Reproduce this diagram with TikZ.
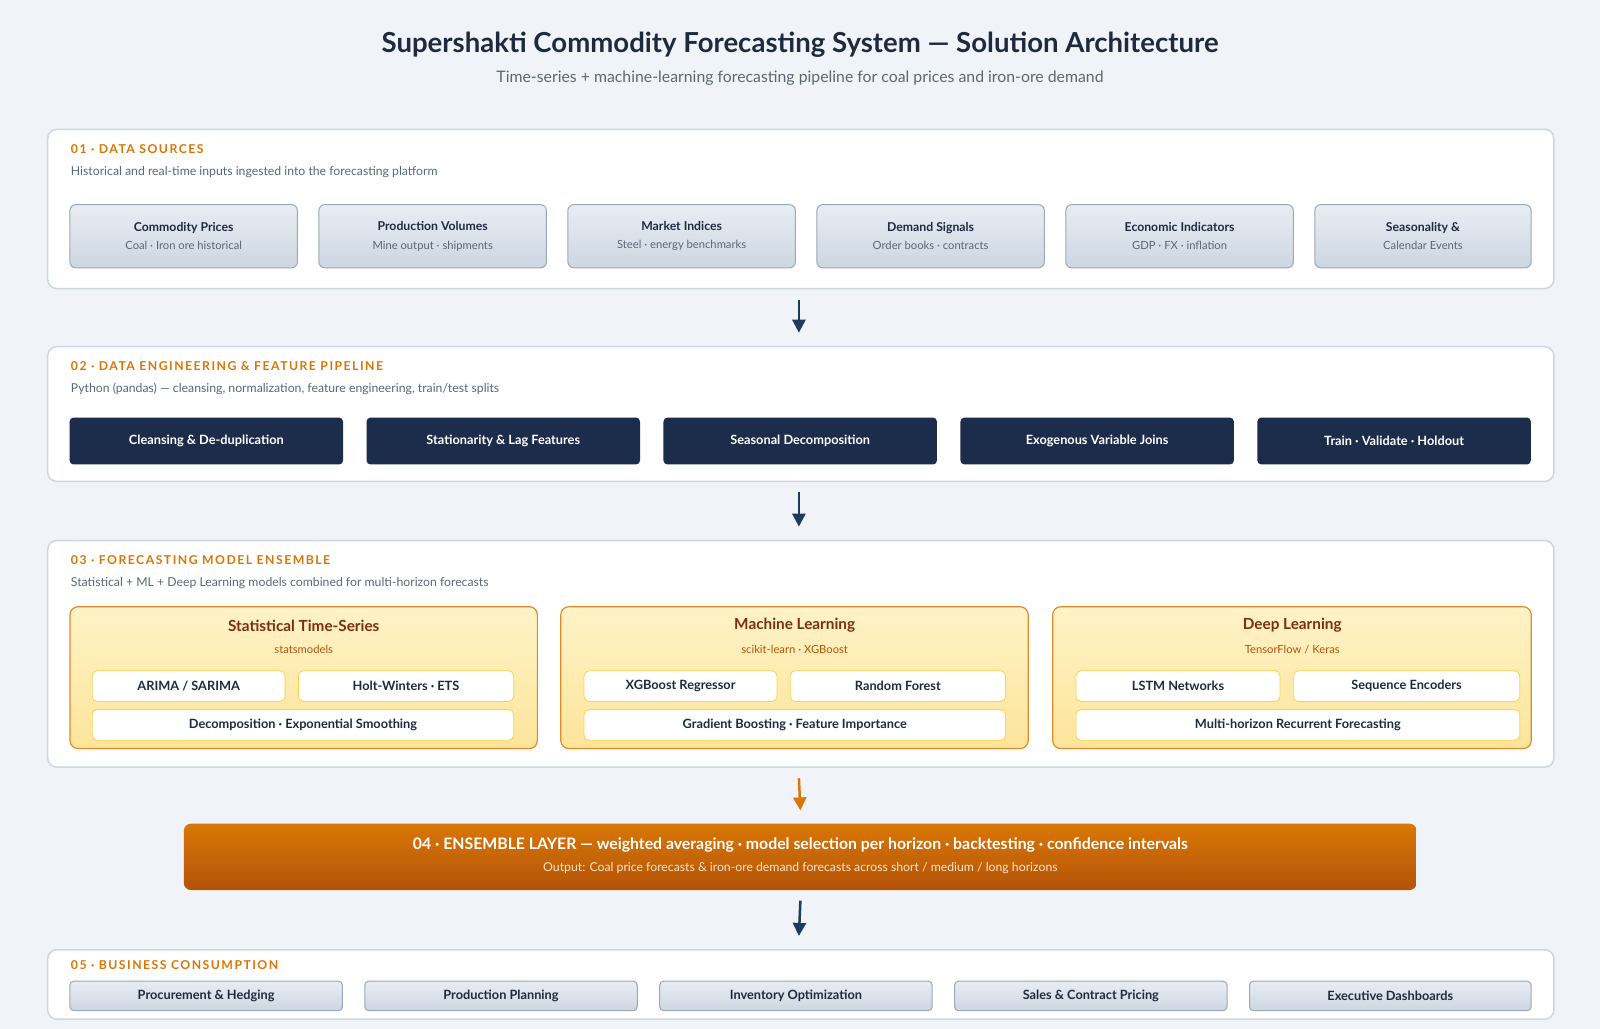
\documentclass[tikz,border=0pt]{standalone}
\usepackage{fontspec}
\setmainfont{Lato}
\usetikzlibrary{arrows.meta,positioning,calc}
\definecolor{navy}{HTML}{1B2D4A}
\definecolor{ink}{HTML}{1E2B3F}
\definecolor{accent}{HTML}{D97706}
\definecolor{greytxt}{HTML}{5B6778}
\definecolor{rim}{HTML}{CDD6E2}
\definecolor{maroon}{HTML}{7C2D12}
\definecolor{pagebg}{HTML}{F0F3F8}
\definecolor{srcrim}{HTML}{9AA8BA}
\definecolor{srctop}{HTML}{E8EDF3}
\definecolor{srcbot}{HTML}{CDD6E1}
\definecolor{grprim}{HTML}{E08A2C}
\definecolor{grptop}{HTML}{FEF3C7}
\definecolor{grpbot}{HTML}{FDE49A}
\definecolor{modrim}{HTML}{FCD34D}
\definecolor{arrowblue}{HTML}{1E3A5F}
\definecolor{enstop}{HTML}{D97706}
\definecolor{ensbot}{HTML}{B45309}
\definecolor{enssub}{HTML}{FDE6C8}

\tikzset{
  section/.style={draw=rim, line width=1.5pt, fill=white, rounded corners=9pt, inner sep=0pt, anchor=north west},
  seclabel/.style={anchor=west, text=accent, font=\fontsize{12}{14}\selectfont\bfseries\addfontfeatures{LetterSpace=12}},
  secdesc/.style={anchor=west, text=greytxt, font=\fontsize{12}{14}\selectfont},
  source/.style={draw=srcrim, line width=1pt, rounded corners=6pt, top color=srctop, bottom color=srcbot, text=ink, align=center, inner sep=0pt, minimum height=62pt, font=\fontsize{12}{16}\selectfont},
  stage/.style={fill=navy, rounded corners=4pt, text=white, inner sep=0pt, minimum height=46pt, font=\fontsize{12.5}{14}\selectfont\bfseries},
  group/.style={draw=grprim, line width=1.2pt, rounded corners=8pt, top color=grptop, bottom color=grpbot, inner sep=0pt, minimum height=139pt},
  model/.style={draw=modrim, line width=0.8pt, fill=white, rounded corners=5pt, text=ink, inner sep=0pt, minimum height=30pt, font=\fontsize{12.5}{14}\selectfont\bfseries},
  consumer/.style={draw=srcrim, line width=1pt, rounded corners=4pt, top color=srctop, bottom color=srcbot, text=ink, inner sep=0pt, minimum height=29pt, font=\fontsize{12.5}{14}\selectfont\bfseries},
  flow/.style={-{Triangle[length=13pt,width=13pt]}, line width=2.5pt, draw=arrowblue},
}

\begin{document}
\begin{tikzpicture}[x=1pt, y=-1pt, scale=1.0204, transform shape]
  \fill[pagebg] (0,0) rectangle (1568,1008.4);
  \useasboundingbox (0,0) rectangle (1568,1008.4);

  % title
  \node[text=ink, font=\fontsize{27}{30}\selectfont\bfseries] (title) at (784,44) {Supershakti Commodity Forecasting System — Solution Architecture};
  \node[text=greytxt, font=\fontsize{15.5}{18}\selectfont] (subtitle) at (784,77) {Time-series + machine-learning forecasting pipeline for coal prices and iron-ore demand};

  % 01 data sources
  \node[section, minimum width=1476pt, minimum height=156pt] (sec1) at (46,126) {};
  \node[seclabel] at (66,146) {01 · DATA SOURCES};
  \node[secdesc] at (66,169) {Historical and real-time inputs ingested into the forecasting platform};
  \foreach \x/\w/\name/\t/\s in {
      68/223/src1/Commodity Prices/Coal · Iron ore historical,
      312/223/src2/Production Volumes/Mine output · shipments,
      556/223/src3/Market Indices/Steel · energy benchmarks,
      800/223/src4/Demand Signals/Order books · contracts,
      1044/223/src5/Economic Indicators/GDP · FX · inflation,
      1288/212/src6/Seasonality \&/Calendar Events}
    \node[source, minimum width=\w pt, anchor=north west] (\name) at (\x,200)
      {\textbf{\t}\\[2pt]{\fontsize{11}{13}\selectfont\color{greytxt}\s}};

  % 02 feature pipeline
  \node[section, minimum width=1476pt, minimum height=132pt] (sec2) at (46,339) {};
  \node[seclabel] at (66,359) {02 · DATA ENGINEERING \& FEATURE PIPELINE};
  \node[secdesc] at (66,381) {Python (pandas) — cleansing, normalization, feature engineering, train/test splits};
  \foreach \x/\name/\t in {68/stg1/Cleansing \& De-duplication, 359/stg2/Stationarity \& Lag Features,
      650/stg3/Seasonal Decomposition, 941/stg4/Exogenous Variable Joins, 1232/stg5/Train · Validate · Holdout}
    \node[stage, minimum width=268pt, anchor=north west] (\name) at (\x,409) {\t};

  % 03 model ensemble
  \node[section, minimum width=1476pt, minimum height=222pt] (sec3) at (46,529) {};
  \node[seclabel] at (66,549) {03 · FORECASTING MODEL ENSEMBLE};
  \node[secdesc] at (66,571) {Statistical + ML + Deep Learning models combined for multi-horizon forecasts};
  \foreach \x/\w/\name/\t/\s in {68/458/grpA/Statistical Time-Series/statsmodels,
      549/458/grpB/Machine Learning/scikit-learn · XGBoost,
      1031/469/grpC/Deep Learning/{TensorFlow / Keras}}
  {
    \node[group, minimum width=\w pt, anchor=north west] (\name) at (\x,594) {};
    \node[text=maroon, font=\fontsize{15}{17}\selectfont\bfseries] at ($(\name.north)+(0,19)$) {\t};
    \node[text=ensbot, font=\fontsize{11}{13}\selectfont] at ($(\name.north)+(0,42)$) {\s};
  }
  \foreach \x/\w/\y/\name/\t in {
      90/189/657/mA1/{ARIMA / SARIMA}, 292/211/657/mA2/Holt-Winters · ETS, 90/413/695/mA3/Decomposition · Exponential Smoothing,
      572/189/657/mB1/XGBoost Regressor, 774/211/657/mB2/Random Forest, 572/413/695/mB3/Gradient Boosting · Feature Importance,
      1054/200/657/mC1/LSTM Networks, 1267/222/657/mC2/Sequence Encoders, 1054/435/695/mC3/Multi-horizon Recurrent Forecasting}
    \node[model, minimum width=\w pt, anchor=north west] (\name) at (\x,\y) {\t};

  % 04 ensemble layer
  \node[rounded corners=7pt, top color=enstop, bottom color=ensbot, minimum width=1208pt, minimum height=65pt,
        inner sep=0pt, anchor=north west] (ens) at (180,807) {};
  \node[text=white, font=\fontsize{15.5}{18}\selectfont\bfseries] at ($(ens.north)+(0,21)$)
    {04 · ENSEMBLE LAYER — weighted averaging · model selection per horizon · backtesting · confidence intervals};
  \node[text=enssub, font=\fontsize{12}{14}\selectfont] at ($(ens.north)+(0,44)$)
    {Output: Coal price forecasts \& iron-ore demand forecasts across short / medium / long horizons};

  % 05 business consumption
  \node[section, minimum width=1476pt, minimum height=68pt] (sec5) at (46,930) {};
  \node[seclabel] at (66,946) {05 · BUSINESS CONSUMPTION};
  \foreach \x/\w/\name/\t in {68/267/use1/Procurement \& Hedging, 357/267/use2/Production Planning,
      646/267/use3/Inventory Optimization, 935/267/use4/Sales \& Contract Pricing, 1224/276/use5/Executive Dashboards}
    \node[consumer, minimum width=\w pt, anchor=north west] (\name) at (\x,961) {\t};

  % flow between layers
  \draw[flow] ($(sec1.south)+(-2,10)$) -- ($(sec2.north)+(-2,-13)$);
  \draw[flow] ($(sec2.south)+(-2,10)$) -- ($(sec3.north)+(-2,-13)$);
  \draw[flow, draw=accent] ($(sec3.south)+(-2,10)$) -- ($(ens.north)+(0,-13)$);
  \draw[flow] ($(ens.south)+(0,10)$) -- ($(sec5.north)+(-2,-13)$);
\end{tikzpicture}
\end{document}
